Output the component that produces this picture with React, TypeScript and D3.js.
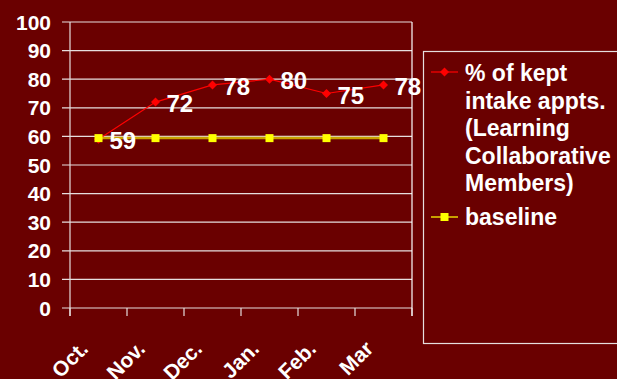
import React from "react";
import * as d3 from "d3";

const categories = ["Oct.", "Nov.", "Dec.", "Jan.", "Feb.", "Mar"];
const keptValues = [59, 72, 78, 80, 75, 78];
const keptLabels = ["59", "72", "78", "80", "75", "78"];
const baselineValues = [59.4, 59.4, 59.4, 59.4, 59.4, 59.4];
const yTicks = [0, 10, 20, 30, 40, 50, 60, 70, 80, 90, 100];
const legendKeptLines = ["% of kept", "intake appts.", "(Learning", "Collaborative", "Members)"];
const legendBaseline = "baseline";

const W = 617;
const H = 379;
const BG = "#6a0000";
const FONT = "'Liberation Sans', Arial, sans-serif";

export default function App() {
  const left = 70, right = 412, top = 22, bottom = 308;
  const x = d3.scaleBand<string>().domain(categories).range([left, right]);
  const y = d3.scaleLinear().domain([0, 100]).range([bottom, top]);
  const cx = (c: string) => (x(c) as number) + x.bandwidth() / 2;

  const line = d3.line<number>().x((_, i) => cx(categories[i])).y((d) => y(d));
  const boundaries = [...categories.map((c) => x(c) as number), right];

  return (
    <svg width={W} height={H} style={{ position: "fixed", left: 0, top: 0, display: "block" }}>
      <rect x={0} y={0} width={W} height={H} fill={BG} />
      {yTicks.map((t) => (
        <g key={t}>
          <line x1={left - 8} x2={right} y1={y(t)} y2={y(t)} stroke="#e6dede" strokeWidth={1.2} />
          <text x={51} y={y(t) + 7.5} textAnchor="end" fill="#ffffff" fontFamily={FONT} fontWeight="bold" fontSize={21}>
            {t}
          </text>
        </g>
      ))}
      <line x1={left} x2={left} y1={top} y2={bottom + 8} stroke="#e6dede" strokeWidth={1.2} />
      <line x1={right} x2={right} y1={top} y2={bottom + 8} stroke="#ffffff" strokeWidth={1.2} />
      {boundaries.map((b, i) => (
        <line key={i} x1={b} x2={b} y1={bottom} y2={bottom + 8} stroke="#e6dede" strokeWidth={1.2} />
      ))}
      {categories.map((c) => (
        <text
          key={c}
          transform={`translate(${cx(c) - 9},${bottom + 42}) rotate(-45)`}
          textAnchor="end"
          fill="#ffffff"
          fontFamily={FONT}
          fontWeight="bold"
          fontSize={21}
        >
          {c}
        </text>
      ))}
      <path d={line(keptValues) || ""} fill="none" stroke="#ff0000" strokeWidth={1.2} />
      {keptValues.map((v, i) => (
        <path
          key={i}
          d={`M${cx(categories[i])},${y(v) - 4.5}l4.5,4.5l-4.5,4.5l-4.5,-4.5z`}
          fill="#ff0000"
        />
      ))}
      <path d={line(baselineValues) || ""} fill="none" stroke="#c8a000" strokeWidth={2.5} />
      {baselineValues.map((v, i) => (
        <rect key={i} x={cx(categories[i]) - 4} y={y(v) - 4} width={8} height={8} fill="#ffff00" />
      ))}
      {keptValues.map((v, i) => (
        <text
          key={i}
          x={cx(categories[i]) + 11}
          y={y(v) + 10}
          fill="#ffffff"
          fontFamily={FONT}
          fontWeight="bold"
          fontSize={24}
        >
          {keptLabels[i]}
        </text>
      ))}
      <rect x={423.5} y={51.5} width={220} height={292} fill="none" stroke="#e6dede" strokeWidth={1.2} />
      <line x1={431} x2={458} y1={72} y2={72} stroke="#ff0000" strokeWidth={1.2} />
      <path d="M444.5,67.5l4.5,4.5l-4.5,4.5l-4.5,-4.5z" fill="#ff0000" />
      {legendKeptLines.map((t, i) => (
        <text key={t} x={465} y={81 + i * 27.5} fill="#ffffff" fontFamily={FONT} fontWeight="bold" fontSize={23}>
          {t}
        </text>
      ))}
      <line x1={431} x2={458} y1={217} y2={217} stroke="#c8a000" strokeWidth={2} />
      <rect x={440.5} y={213} width={8} height={8} fill="#ffff00" />
      <text x={465} y={225} fill="#ffffff" fontFamily={FONT} fontWeight="bold" fontSize={23}>
        {legendBaseline}
      </text>
    </svg>
  );
}
